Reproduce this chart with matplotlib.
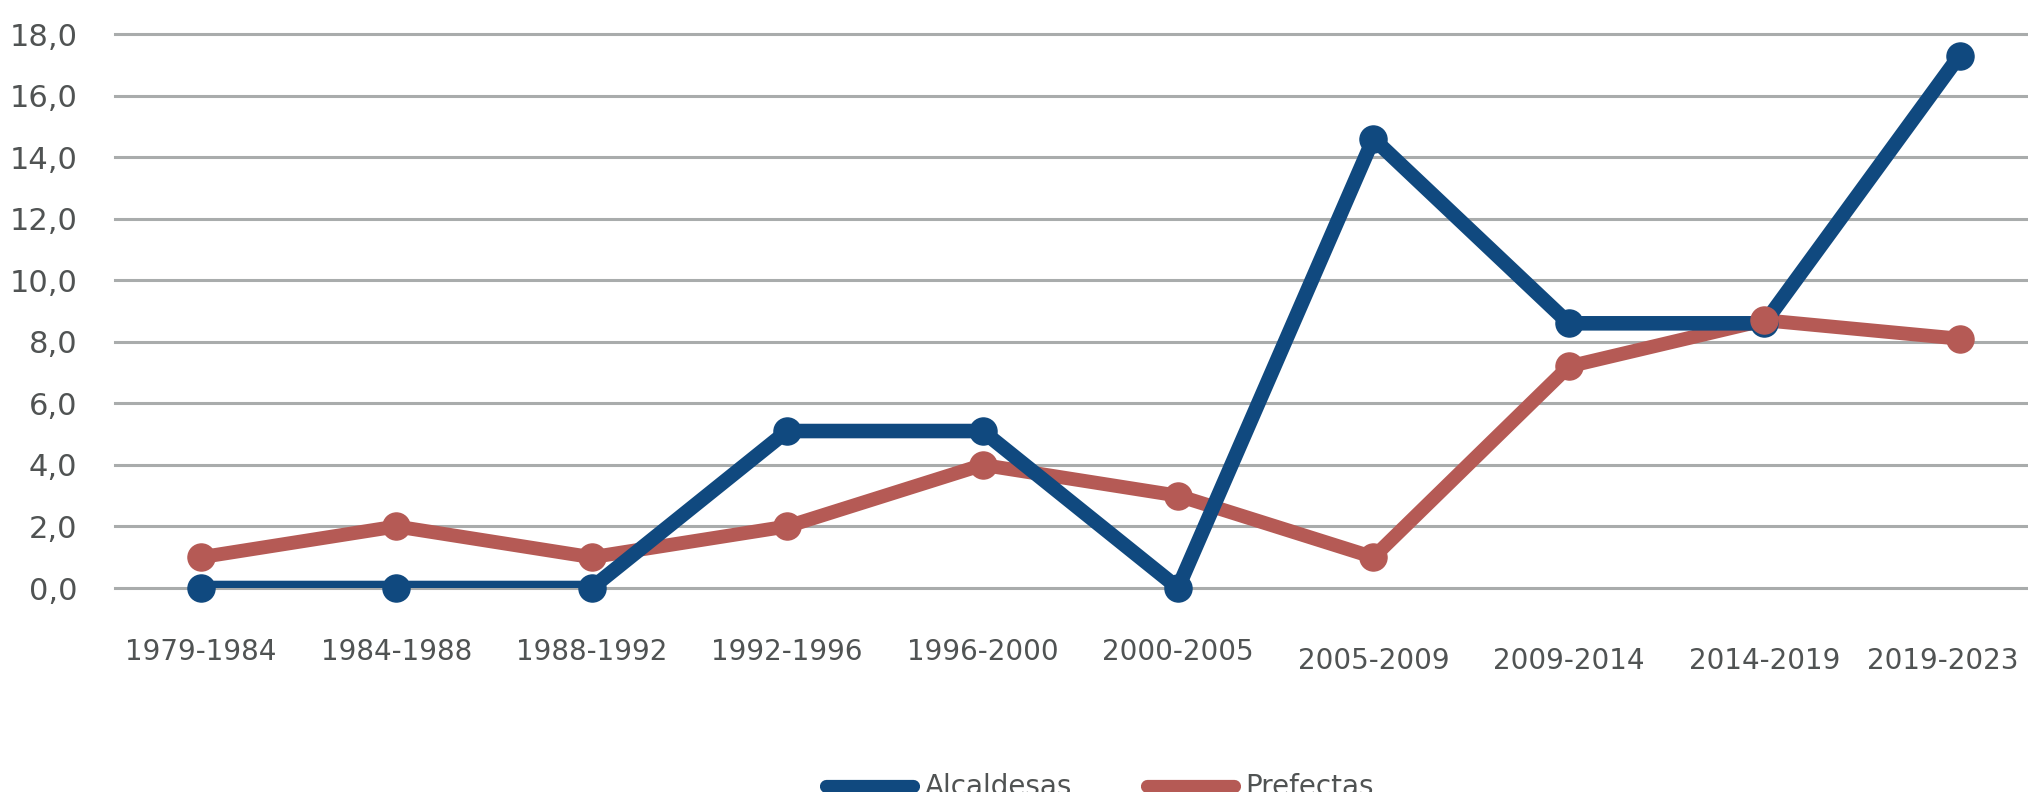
import numpy as np
import matplotlib
matplotlib.use("Agg")
import matplotlib.pyplot as plt
import matplotlib.transforms as mtransforms
from matplotlib.lines import Line2D

# data
periodos = ["1979-1984", "1984-1988", "1988-1992", "1992-1996", "1996-2000",
            "2000-2005", "2005-2009", "2009-2014", "2014-2019", "2019-2023"]
alcaldesas = [0.0, 0.0, 0.0, 5.1, 5.1, 0.0, 14.6, 8.6, 8.6, 17.3]
prefectas = [1.0, 2.0, 1.0, 2.0, 4.0, 3.0, 1.0, 7.2, 8.7, 8.1]
y_ticks = [0, 2, 4, 6, 8, 10, 12, 14, 16, 18]

azul = "#10497F"
rojo = "#B55A55"
gris_texto = "#505353"

fig = plt.figure(figsize=(20.28, 7.92), dpi=100)
ax = fig.add_axes([115 / 2028, 1 - 588 / 792, 1 - 115 / 2028, (588 - 34) / 792])

x = np.arange(len(periodos))

ax.plot(x, prefectas, color=rojo, lw=10, solid_joinstyle="round", zorder=2)
ax.plot(x, alcaldesas, color=azul, lw=10.5, solid_joinstyle="round", zorder=3)
ax.plot(x, alcaldesas, ls="none", marker="o", ms=19.5, color=azul, zorder=4, clip_on=False)
ax.plot(x, prefectas, ls="none", marker="o", ms=19.5, color=rojo, zorder=5, clip_on=False)

ax.set_xlim(-0.44, 9.35)
ax.set_ylim(0, 18)
ax.set_yticks(y_ticks)
ax.set_yticklabels([f"{v:.1f}".replace(".", ",") for v in y_ticks])
ax.set_xticks(x)
ax.set_xticklabels(periodos)

ax.grid(axis="y", color="#A9ACAC", lw=2.2, zorder=0)
for gl in ax.get_ygridlines():
    gl.set_clip_on(False)
ax.set_axisbelow(True)
for s in ax.spines.values():
    s.set_visible(False)
ax.tick_params(axis="both", length=0, colors=gris_texto)
ax.tick_params(axis="y", pad=27, labelsize=22)
ax.tick_params(axis="x", pad=36, labelsize=20)

# later labels sit a little lower, the last one is pushed inside the figure
labs = ax.get_xticklabels()
for lab in labs[6:]:
    lab.set_transform(lab.get_transform() + mtransforms.ScaledTranslation(0, -0.09, fig.dpi_scale_trans))
labs[-1].set_transform(labs[-1].get_transform() + mtransforms.ScaledTranslation(-0.17, 0, fig.dpi_scale_trans))

handles = [Line2D([], [], color=azul, lw=9.5, solid_capstyle="round"),
           Line2D([], [], color=rojo, lw=9.5, solid_capstyle="round")]
leg = fig.legend(handles, ["Alcaldesas", "Prefectas"], loc="center",
                 bbox_to_anchor=(0.5425, 0.006), ncol=2, frameon=False,
                 handlelength=3.13, handletextpad=0.42, columnspacing=2.68,
                 prop={"size": 20})
for txt in leg.get_texts():
    txt.set_color(gris_texto)

fig.savefig("out.png", dpi=100)
